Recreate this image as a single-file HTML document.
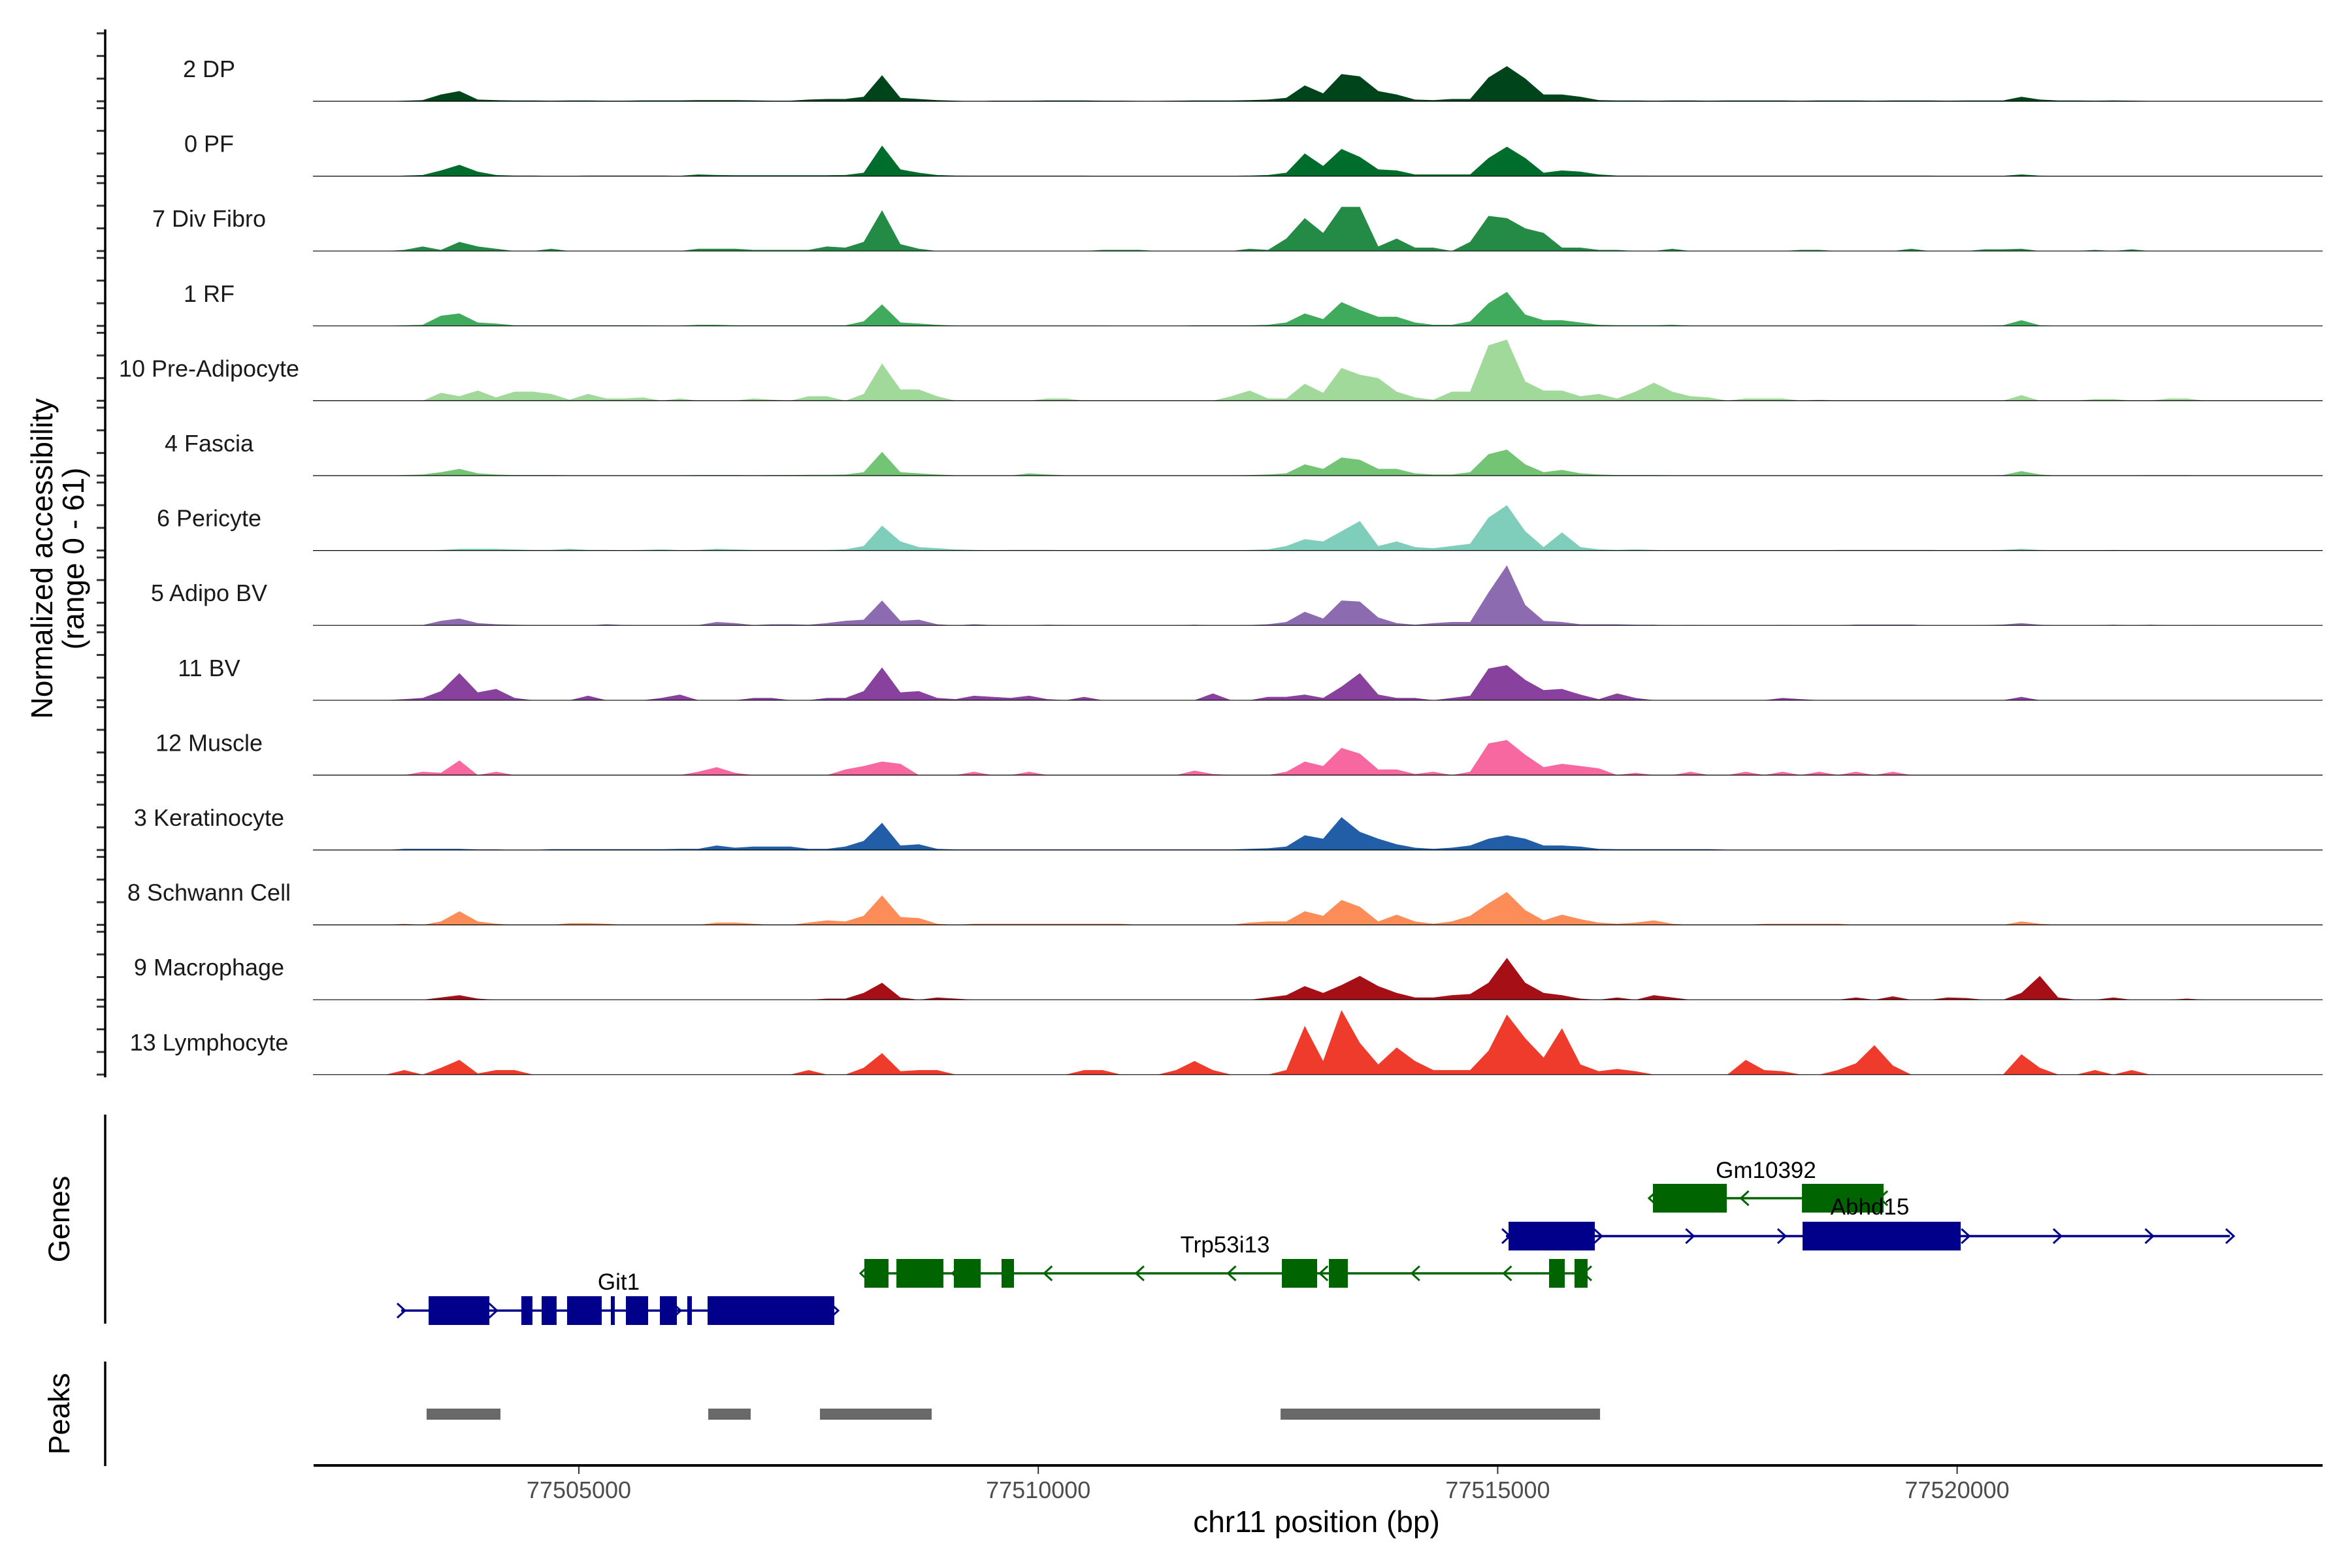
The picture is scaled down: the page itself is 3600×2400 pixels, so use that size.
<!DOCTYPE html>
<html><head><meta charset="utf-8"><style>
html,body{margin:0;padding:0;background:#fff;}
svg{display:block;font-family:"Liberation Sans",Arial,sans-serif;}
</style></head>
<body>
<svg id="chart" xmlns="http://www.w3.org/2000/svg" width="3600" height="2400" viewBox="0 0 3600 2400">
<rect width="3600" height="2400" fill="#fff"/>
<g id="tracks"></g>
<g id="yaxis"></g>
<g id="genes"></g>
<g id="genelabels"></g>
<g id="peaks"></g>
<g id="xaxis"></g>
<g font-size="46" fill="#000" text-anchor="middle">
<text transform="translate(80,855) rotate(-90)">Normalized accessibility</text>
<text transform="translate(128,855) rotate(-90)">(range 0 - 61)</text>
</g>
<text transform="translate(106,1866) rotate(-90)" font-size="45" text-anchor="middle">Genes</text>
<text transform="translate(106,2164) rotate(-90)" font-size="45" text-anchor="middle">Peaks</text>
<text x="2015" y="2345" font-size="46" text-anchor="middle">chr11 position (bp)</text>
</svg>
<script>
const NS = "http://www.w3.org/2000/svg";
const trackNames = ["2 DP","0 PF","7 Div Fibro","1 RF","10 Pre-Adipocyte","4 Fascia","6 Pericyte","5 Adipo BV","11 BV","12 Muscle","3 Keratinocyte","8 Schwann Cell","9 Macrophage","13 Lymphocyte"];
const trackColors = ["#00441b","#006d2c","#238b45","#41ab5d","#a1d99b","#74c476","#7fcdbb","#8c6bb1","#88419d","#f768a1","#225ea8","#fc8d59","#a50f15","#ef3b2c"];
const binStart = 77502600;
const binSize = 200;
const yTicks = [0,20,40,60];
const xTicks = [77505000,77510000,77515000,77520000];
const xTickLabels = ["77505000","77510000","77515000","77520000"];

const covDP = [0,0,0.5,1,6,9,1.5,1,0.7,0.7, 0.5,0.7,0.7,0.5,0.5,0.8,0.8,0.8,1,1, 1,0.8,0.5,0.5,1.5,2,2,4,23,3, 2,1,0.5,0,0.5,0.5,0.5,0.7,0.7,0.7, 0.5,0.5,0.3,0.3,0.5,0.7,0.7,0.7,1,1.5, 3,14,7,24,22,9,6,1.5,1,2, 2,21,31,20,6,6,4,1,0.7,0.7, 0.5,0.7,0.7,0.5,0.7,0.7,0.7,0.7,0.5,0.7, 0.7,0.7,0.5,0.7,0.7,0.7,0.5,0.7,0.7,0.7, 4,1.5,0.7,0.7,0.5,0.7,0.5,0.3,0.3,0, 0.3,0,0,0,0];
const covPF = [0,0,0.5,1,5,10,4,1,0.5,0.5, 0.3,0.3,0.5,0.5,0.5,0.5,0.5,0.3,1.5,1, 0.8,0.8,0.8,0.8,0.8,0.8,1,3,27,6, 3,1,0.5,0.4,0.4,0.4,0.4,0.4,0.4,0.4, 0.3,0.3,0.3,0.3,0.3,0.3,0.3,0.3,0.5,1, 3,20,9,24,17,6,5,1.5,1.5,1.5, 1.5,16,26,16,3,5,4,1.5,0.5,0.5, 0.4,0.4,0.4,0.4,0.4,0.4,0.4,0.4,0.4,0.4, 0.4,0.4,0.4,0.4,0.4,0.4,0.3,0.3,0.3,0.3, 1.5,0.4,0.3,0.3,0.3,0.3,0,0,0,0, 0,0,0,0,0];
const covDivFibro = [0,0,1,4,1,8,4,2,0,0, 2,0,0,0,0,0,0,0,2,2, 2,1,1,1,1,4,3,8,36,6, 2,0,0,0,0,0,0,0,0,0, 1,1,1,0,0,0,0,0,2,1, 11,29,16,39,39,4,11,3,3,0, 8,31,29,20,16,3,3,1,1,0, 0,2,0,0,0,0,0,0,1,1, 0,0,0,0,2,0,0,0,1.5,1.5, 2,0,0,0,1,0,1.5,0,0,0, 0,0,0,0,0];
const covRF = [0,0,0.5,1,9,11,3,2,0.5,0.5, 0.5,0.5,0.5,0.5,0.5,0.5,0.3,0.3,1,1, 0.5,0.5,0.5,0.5,0.5,0.5,0.5,4,19,3, 2,1,0.3,0.3,0.3,0.3,0.3,0.3,0.3,0.3, 0.3,0,0,0,0,0.5,0.5,0.5,0.5,1, 3,11,6,21,14,8,8,3,1,1, 4,20,30,10,5,5,3,1,0.6,0.6, 0.6,1,0.3,0.3,0.3,0.3,0.3,0.3,0.3,0.3, 0.3,0.3,0.3,0.3,0.3,0.3,0.3,0.3,0.3,0.5, 5,0.5,0,0,0,0,0,0,0,0, 0,0,0,0,0];
const covPreAdipo = [0,0,0,0,7,4,9,3,8,8, 6,1,6,2,2,3,0,2,0,0, 0,2,1,0,4,4,0,6,33,10, 10,4,0,0,0,0,0,2,2,0, 0,0,0,0,0,0,0,4,9,2, 2,15,7,29,23,20,8,3,1,8, 8,49,54,17,9,9,4,6,2,8, 16,8,4,3,0,2,2,2,0,1, 0,0,0,0,0,0,0,0,0,0, 5,0,0,0,1.5,1.5,0,0,2,2, 0,0,0,0,0];
const covFascia = [0,0,0.5,1,3,6,2,1,0.5,0.5, 0.5,0.3,0.3,0.3,0.3,0.3,0.3,0.3,0.5,0.5, 0.5,0.3,0.5,0.5,0.7,0.7,1,3,21,3, 2,1,0.3,0,0,0,2,1,0.3,0, 0,0,0,0.3,0,0,0,0.3,0.5,1, 2,10,6,16,14,6,6,2,1,1, 3,19,23,10,3,5,2,1,0.5,0.5, 0.5,0.3,0,0,0,0.3,0,0,0.3,0, 0,0,0,0,0,0,0,0,0,0.5, 4,1,0,0,0.3,0.3,0.3,0.4,0.4,0.4, 0,0,0,0,0];
const covPericyte = [0,0,0,0,0.5,1.5,1.5,1.5,1,0.5, 0.5,1.5,0.5,0.5,0.3,0.5,1,0.3,0.5,1.5, 1,0.5,0.5,0.5,0.5,0.5,1,4,22,8, 3,2,1,0.5,0.3,0.5,0.5,0.5,0.3,0.3, 0.3,0.3,0,0,0,0,0,0,0.5,1, 4,10,8,17,26,4,8,3,2,4, 6,29,40,17,3,16,3,1,0.5,1, 0.5,0,0,0,0,0.3,0,0,0,0, 0.5,0.5,0.5,0.5,0.5,0.5,0.3,0.3,0.3,0.5, 1.5,0.5,0.3,0.3,0.3,0.5,0.3,0,0,0, 0,0,0,0,0];
const covAdipoBV = [0,0,0,0.3,4,6,2,1,0.5,0.3, 0.3,0,0,1,0.3,0,0,0,0.3,3, 2,0.3,1,1,0.5,2,4,5,22,4, 5,1,0,1,0.3,0,0,0.5,0.3,0, 0,0,0,0,0,0.5,0,0,0.3,1, 3,12,6,22,21,7,2,0.5,2,3, 3,29,53,18,4,3,1,1,1,0.5, 0.5,0,0.3,0,0,0,0,0.3,0,0, 0,0.7,0.7,0.7,0.7,0,0,0,0.3,0.7, 2,0.5,0,0,0,0.5,0,0.5,0,0, 0.3,0,0,0,0];
const covBV = [0,0,1,2,8,24,7,10,2,0, 0,0,4,0,0,0,2,5,0,0, 0,2,2,0,0,2,2,8,29,7, 8,2,1,4,3,2,4,1,0,3, 0,0,0,0,0,0,6,0,0,3, 3,5,2,12,24,5,2,2,0,2, 4,28,31,18,9,10,5,1,6,2, 0,0,0,0,0,0,0,2,1,0, 0,0,0,0,0,0,0,0,0,0, 3,0,0,0,0,0,0,0,0,0, 0,0,0,0,0];
const covMuscle = [0,0,0,3,2,13,0,3,0,0, 0,0,0,0,0,0,0,0,3,7, 2,0,0,0,0,0,5,8,12,10, 0,0,0,3,0,0,3,0,0,0, 0,0,0,0,0,4,1,0,0,0, 3,12,8,24,19,5,5,1,3,0, 3,28,31,18,7,10,8,6,0,2, 0,0,3,0,0,3,0,3,0,3, 0,3,0,3,0,0,0,0,0,0, 0,0,0,0,0,0,0,0,0,0, 0,0,0,0,0];
const covKerat = [0,0,1,1,1,1,0.5,0.5,0,0, 0.7,0.7,0.7,0.7,0.7,0.7,0.7,1,1,4, 2,3,3,3,1,1,3,8,24,4, 5,1,0.5,0.5,0.5,0.5,0.5,0.5,0.5,0.5, 0.5,0.5,0.5,0.5,0.5,0.5,0.5,0.5,1,1.5, 3,13,10,29,16,10,5,2,1,2, 4,10,13,10,4,4,3,1,0.7,0.7, 0.7,0.7,0.7,0.7,0.3,0.3,0.3,0.3,0.3,0.3, 0.3,0.3,0.3,0.3,0.3,0.3,0.3,0.3,0.3,0.3, 0.3,0.3,0.3,0.3,0.3,0.3,0.3,0.3,0.3,0.3, 0.3,0,0,0,0];
const covSchwann = [0,0,1,0,3,12,3,1,0,0, 0,1.5,1.5,1,0,0,0,0,0,2, 2,1,0,0,2,4,3,8,26,7, 6,1,0,1,1,1,1,1,1,1, 1,1,0,0,0,0,0,0,2,3, 3,12,8,22,16,3,9,3,1,3, 8,19,29,13,4,9,5,2,1,2, 4,1,0,0,0,0,1,1,1,1, 1,0,0,0,0,0,0,0,0,0, 3,1,0,0,0,0,0,0,0,0, 0,0,0,0,0];
const covMacro = [0,0,0,0,2,4,1,0,0,0, 0,0,0,0,0,0,0,0,0,0, 0,0,0,0,0,1,1,6,15,2, 0,2,1,0,0,0,0,0,0,0, 0,0,0,0,0,0,0,0,0,2, 4,12,6,13,21,12,6,2,2,4, 5,15,37,15,6,4,1,0,2,0, 4,2,0,0,0,0,0,0,0,0, 0,2,0,3,0,0,2,1.5,0,0, 6,21,2,0,0,2,0,0,0,1, 0,0,0,0,0];
const covLympho = [0,0,4,0,6,13,1,4,4,0, 0,0,0,0,0,0,0,0,0,0, 0,0,0,0,4,0,0,6,19,3, 4,4,0,0,0,0,0,0,0,4, 4,0,0,0,4,12,4,0,0,0, 4,43,12,57,28,9,24,12,4,4, 4,21,53,32,15,41,9,3,5,3, 0,0,0,0,0,13,4,3,0,0, 4,10,26,8,0,0,0,0,0,0, 18,6,0,0,4,0,4,0,0,0, 0,0,0,0,0];
const coverage = [covDP,covPF,covDivFibro,covRF,covPreAdipo,covFascia,covPericyte,covAdipoBV,covBV,covMuscle,covKerat,covSchwann,covMacro,covLympho];

// genes
const geneNames = ["Git1","Trp53i13","Abhd15","Gm10392"];
const geneStrands = ["+","-","+","-"];
const geneStarts = [77503066,77508107,77515090,77516689];
const geneEnds = [77507780,77515978,77522968,77519200];
const geneRows = [3,2,1,0];
const git1Exons = [[77503365,77504026],[77504374,77504495],[77504595,77504758],[77504872,77505249],[77505348,77505391],[77505512,77505754],[77505882,77506067],[77506180,77506230],[77506401,77507780]];
const trp53i13Exons = [[77508107,77508370],[77508456,77508968],[77509081,77509373],[77509600,77509736],[77512651,77513035],[77513163,77513369],[77515559,77515730],[77515836,77515978]];
const abhd15Exons = [[77515118,77516057],[77518318,77520039]];
const gm10392Exons = [[77516689,77517493],[77518311,77519200]];
const geneExons = [git1Exons,trp53i13Exons,abhd15Exons,gm10392Exons];
const peakStarts = [77503343,77506408,77507624,77512637];
const peakEnds = [77504147,77506870,77508840,77516114];

function xScale(bp){ return 886 + (bp - 77505000) * 0.14064; }
function baseY(k){ return 155 + 114.6 * k; }
function yScale(v){ return v * 104 / 60; }
const rowY = [1834, 1892, 1949, 2006];
const labelY = [1803, 1859, 1917, 1974];

function mk(tag, attrs, parent){ const e = document.createElementNS(NS, tag); for (const k in attrs) e.setAttribute(k, attrs[k]); parent.appendChild(e); return e; }

const gT = document.getElementById('tracks');
const gY = document.getElementById('yaxis');
trackNames.forEach((name, k) => {
  const b = baseY(k);
  const vals = coverage[k];
  let d = `M${xScale(binStart + binSize/2).toFixed(1)},${b}`;
  vals.forEach((v, i) => { d += ` L${xScale(binStart + binSize*i + binSize/2).toFixed(1)},${(b - yScale(v)).toFixed(1)}`; });
  d += ` L${xScale(binStart + binSize*(vals.length-1) + binSize/2).toFixed(1)},${b} Z`;
  const p = mk('path', {d: d, fill: trackColors[k], stroke: 'none'}, gT);
  
  
  const ln = mk('line', {x1: 479, x2: 3555, y1: b, y2: b, stroke: '#000', 'stroke-width': 1.2}, gT);
  
  
  const t = mk('text', {x: 320, y: b - 37, 'font-size': 36, 'text-anchor': 'middle', fill: '#1a1a1a'}, gT);
  t.textContent = name;
  
  
  yTicks.forEach(tv => {
    const ty = b - yScale(tv);
    const tk = mk('line', {x1: 148, x2: 161, y1: ty, y2: ty, stroke: '#333', 'stroke-width': 3}, gY);
    
    
  });
});
const ya = mk('line', {x1: 161, x2: 161, y1: 45, y2: 1649, stroke: '#000', 'stroke-width': 3.5}, gY);



const gG = document.getElementById('genes');
const gL = document.getElementById('genelabels');
const ga = mk('line', {x1: 161, x2: 161, y1: 1706, y2: 2026, stroke: '#000', 'stroke-width': 3.5}, gG);


geneNames.forEach((gname, g) => {
  const col = geneStrands[g] === '+' ? '#00008b' : '#006400';
  const cy = rowY[geneRows[g]];
  const grp = mk('g', {}, gG);
  
  
  mk('line', {x1: xScale(geneStarts[g]), x2: xScale(geneEnds[g]), y1: cy, y2: cy, stroke: col, 'stroke-width': 3.5}, grp);
  const pos = [];
  for (let bp = geneStarts[g]; bp < geneEnds[g]; bp += 1000) pos.push(bp);
  pos.push(geneEnds[g]);
  pos.forEach(bp => {
    const x = xScale(bp);
    const dx = geneStrands[g] === '+' ? 6 : -6;
    mk('path', {d: `M${x-dx},${cy-11} L${x+dx},${cy} L${x-dx},${cy+11}`, fill: 'none', stroke: col, 'stroke-width': 3}, grp);
  });
  geneExons[g].forEach(ex => {
    mk('rect', {x: xScale(ex[0]), y: cy - 22, width: xScale(ex[1]) - xScale(ex[0]), height: 44, fill: col}, grp);
  });
  const lx = gname === 'Git1' ? 947 : gname === 'Trp53i13' ? 1875 : gname === 'Abhd15' ? 2862 : 2703;
  const lt = mk('text', {x: lx, y: labelY[geneRows[g]], 'font-size': 35, 'text-anchor': 'middle', fill: '#000'}, gL);
  lt.textContent = gname;
  
  
});

const gP = document.getElementById('peaks');
const pa = mk('line', {x1: 161, x2: 161, y1: 2084, y2: 2244, stroke: '#000', 'stroke-width': 3.5}, gP);


peakStarts.forEach((s, i) => {
  const r = mk('rect', {x: xScale(s), y: 2156, width: xScale(peakEnds[i]) - xScale(s), height: 17, fill: '#696969'}, gP);
  
  
});

const gX = document.getElementById('xaxis');
const xa = mk('line', {x1: 480, x2: 3555, y1: 2243, y2: 2243, stroke: '#000', 'stroke-width': 4}, gX);


xTicks.forEach((bp, i) => {
  const x = xScale(bp);
  const tk = mk('line', {x1: x, x2: x, y1: 2245, y2: 2256, stroke: '#333', 'stroke-width': 2}, gX);
  
  
  const tl = mk('text', {x: x, y: 2293, 'font-size': 36, 'text-anchor': 'middle', fill: '#4d4d4d'}, gX);
  tl.textContent = xTickLabels[i];
  
  
});
</script>
</body></html>
